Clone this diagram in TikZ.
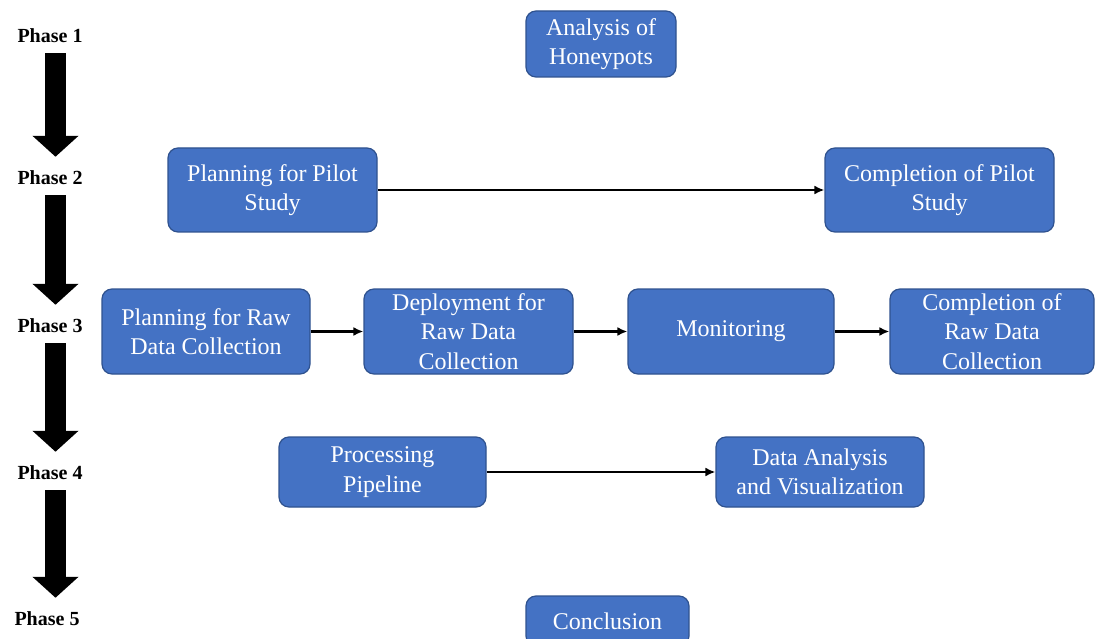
\documentclass[tikz,border=0pt]{standalone}
\usepackage{fontspec}
\setmainfont{Liberation Serif}
\usetikzlibrary{arrows.meta}
\definecolor{boxblue}{HTML}{4472C4}
\definecolor{boxedge}{HTML}{2F528F}

\begin{document}
\begin{tikzpicture}[x=1pt,y=-1pt,
        box/.style={rectangle,rounded corners=10pt,fill=boxblue,draw=boxedge,line width=1.2pt,
            text=white,align=center,inner sep=2pt,font=\fontsize{24}{29.5}\selectfont},
        phase/.style={font=\fontsize{20}{24}\selectfont\bfseries,inner sep=0pt},
        flow/.style={line width=2.4pt,-{Latex[length=10pt,width=9pt]}},
        bigarrow/.style={line width=21pt,-{Triangle[width=45pt,length=21pt]}}]
                \useasboundingbox
                    (0,0) rectangle (1095,639);
                \node[phase] (p1) at (50,36) {Phase 1};
                \node[phase] (p2) at (50,178) {Phase 2};
                \node[phase] (p3) at (50,326) {Phase 3};
                \node[phase] (p4) at (50,473) {Phase 4};
                \node[phase] (p5) at (47,619) {Phase 5};
                \coordinate (shaft) at (55.5,0);
                \foreach \a/\b in {p1/p2,p2/p3,p3/p4,p4/p5}
                    \draw[bigarrow,shorten <=10pt,shorten >=14pt]
                        (\a.south -| shaft) -- (\b.north -| shaft);
                \node[box,minimum width=150pt,minimum height=66pt] (honey) at (601,44)
                    {Analysis of\\Honeypots};
                \node[box,minimum width=209pt,minimum height=84pt] (pilotplan) at (272.5,190)
                    {Planning for Pilot\\Study};
                \node[box,minimum width=229pt,minimum height=84pt] (pilotdone) at (939.5,190)
                    {Completion of Pilot\\Study};
                \node[box,minimum width=208pt,minimum height=85pt] (rawplan) at (206,331.5)
                    {Planning for Raw\\Data Collection};
                \node[box,minimum width=209pt,minimum height=85pt] (deploy) at (468.5,331.5)
                    {Deployment for\\Raw Data\\Collection};
                \node[box,minimum width=206pt,minimum height=85pt] (monitor) at (731,331.5)
                    {Monitoring};
                \node[box,minimum width=204pt,minimum height=85pt] (rawdone) at (992,331.5)
                    {Completion of\\Raw Data\\Collection};
                \node[box,minimum width=207pt,minimum height=70pt] (pipeline) at (382.5,472)
                    {Processing\\Pipeline};
                \node[box,minimum width=208pt,minimum height=70pt] (analysis) at (820,472)
                    {Data Analysis\\and Visualization};
                \node[box,minimum width=163pt,minimum height=50pt] (concl) at (607.5,621)
                    {Conclusion};
                \draw[flow]
                    (pilotplan) -- (pilotdone);
                \draw[flow]
                    (rawplan) -- (deploy);
                \draw[flow]
                    (deploy) -- (monitor);
                \draw[flow]
                    (monitor) -- (rawdone);
                \draw[flow]
                    (pipeline) -- (analysis);
\end{tikzpicture}
\end{document}
